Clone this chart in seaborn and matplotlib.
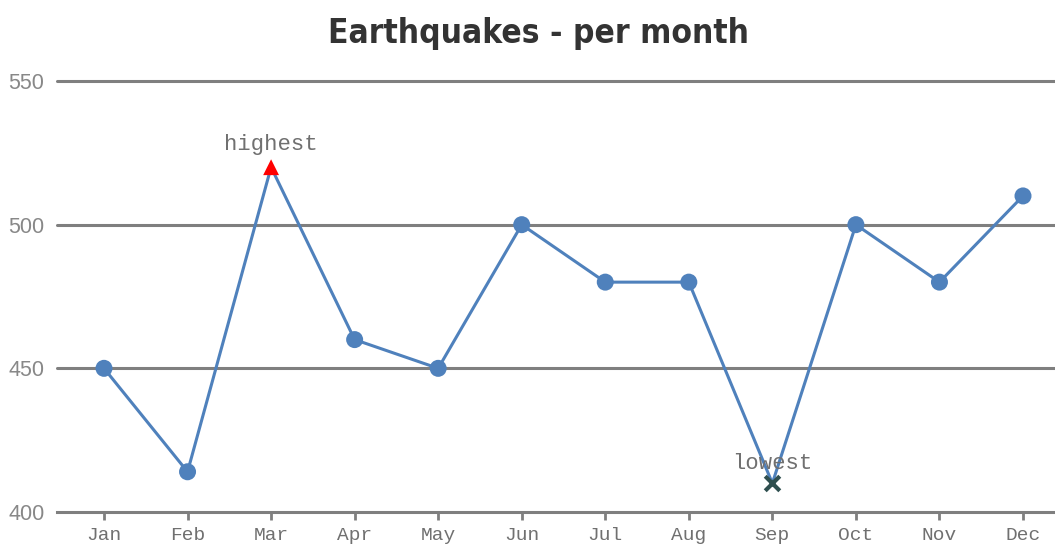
import matplotlib
matplotlib.use("Agg")
import matplotlib.pyplot as plt
import seaborn as sns
import pandas as pd

months = ["Jan", "Feb", "Mar", "Apr", "May", "Jun", "Jul", "Aug", "Sep", "Oct", "Nov", "Dec"]
quakes = [450, 414, 520, 460, 450, 500, 480, 480, 410, 500, 480, 510]
y_ticks = [400, 450, 500, 550]
highest_month, lowest_month = "Mar", "Sep"

sns.set_theme(style="white")
plt.rcParams["font.family"] = ["DejaVu Sans"]

df = pd.DataFrame({"month": months, "quakes": quakes})
df["pos"] = range(len(months))

fig = plt.figure(figsize=(10.55, 5.48), dpi=100)
ax = fig.add_axes([57 / 1055, 1 - 512 / 548, 998 / 1055, 431 / 548])

line_color = "#4F81BC"
grid_color = "#7f7f7f"

# horizontal grid lines
for v in y_ticks[1:]:
    ax.axhline(v, color=grid_color, lw=2.2, clip_on=False, zorder=1)

sns.lineplot(data=df, x="pos", y="quakes", color=line_color, lw=2.2, ax=ax, zorder=3)

regular = df[~df["month"].isin([highest_month, lowest_month])]
sns.scatterplot(data=regular, x="pos", y="quakes", color=line_color, s=150,
                edgecolor="none", ax=ax, zorder=4)

hi = df[df["month"] == highest_month]
lo = df[df["month"] == lowest_month]
sns.scatterplot(data=hi, x="pos", y="quakes", marker="^", color="#FF0000", s=130,
                edgecolor="none", ax=ax, zorder=5)
sns.scatterplot(data=lo, x="pos", y="quakes", marker="x", color="#2F4F4F", s=110,
                linewidth=3, ax=ax, zorder=5)

mono = ["Liberation Mono", "DejaVu Sans Mono"]
ax.annotate("highest", (hi["pos"].iloc[0], hi["quakes"].iloc[0]), xytext=(0, 9),
            textcoords="offset points", ha="center", va="bottom",
            family=mono, fontsize=16, color="#707070", zorder=6)
ax.annotate("lowest", (lo["pos"].iloc[0], lo["quakes"].iloc[0]), xytext=(0, 7),
            textcoords="offset points", ha="center", va="bottom",
            family=mono, fontsize=16, color="#707070", zorder=6)

ax.set_xlim(-0.5625, 11.383)
ax.set_ylim(400, 550)
ax.set_xticks(df["pos"])
ax.set_xticklabels(months, family=mono, fontsize=14, color="#707070")
ax.set_yticks(y_ticks)
ax.set_yticklabels([str(v) for v in y_ticks], family=["Liberation Sans"], fontsize=15.5,
                   color="#888888")
ax.tick_params(axis="x", direction="out", length=6, width=2, color=grid_color, pad=5,
               bottom=True)
ax.tick_params(axis="y", length=0, pad=9)
ax.set_xlabel("")
ax.set_ylabel("")

for s in ["top", "right", "left"]:
    ax.spines[s].set_visible(False)
ax.spines["bottom"].set_color(grid_color)
ax.spines["bottom"].set_linewidth(2.2)

fig.text(539 / 1055, 1 - 34 / 548, "Earthquakes - per month", ha="center", va="center",
         family=["DejaVu Sans"], fontstretch="condensed", fontweight="bold",
         fontsize=24, color="#333333")

fig.savefig("out.png", dpi=100)
